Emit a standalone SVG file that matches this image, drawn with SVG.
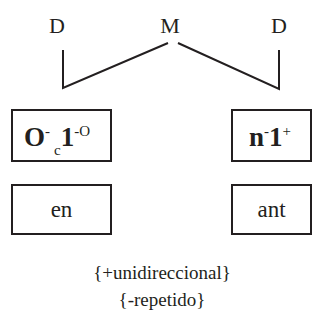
<svg xmlns="http://www.w3.org/2000/svg" width="324" height="333" viewBox="0 0 324 333">
<style>
text{fill:#231f20;font-family:"Liberation Serif","DejaVu Serif",serif}
.lab{font-size:22px}
.box{fill:#fff;stroke:#231f20;stroke-width:2}
.bx{font-size:27px;font-weight:bold}
.plain{font-size:23px}
.sm{font-size:15px}
.foot{font-size:19px}
.con{fill:none;stroke:#231f20;stroke-width:2}
</style>
<g id="top-labels">
<text class="lab" x="57" y="33" text-anchor="middle">D</text>
<text class="lab" x="170" y="33" text-anchor="middle">M</text>
<text class="lab" x="279" y="33" text-anchor="middle">D</text>
</g>
<g id="connectors">
<polyline class="con" points="63,50 63,88 168,43"/>
<polyline class="con" points="178,43 279,89 279,50"/>
</g>
<g id="node-left-top">
<rect class="box" x="12" y="110" width="99" height="51"/>
<text x="24" y="146"><tspan class="bx">O</tspan><tspan class="sm" dy="-10">-</tspan><tspan class="sm" dx="4" dy="19">c</tspan><tspan class="bx" dy="-9">1</tspan><tspan class="sm" dy="-10">-O</tspan></text>
</g>
<g id="node-left-bottom">
<rect class="box" x="12" y="185" width="99" height="49"/>
<text class="plain" x="61.5" y="217" text-anchor="middle">en</text>
</g>
<g id="node-right-top">
<rect class="box" x="232" y="110" width="79" height="51"/>
<text x="249" y="146"><tspan class="bx">n</tspan><tspan class="sm" dy="-10">-</tspan><tspan class="bx" dy="10">1</tspan><tspan class="sm" dy="-10">+</tspan></text>
</g>
<g id="node-right-bottom">
<rect class="box" x="232" y="185" width="79" height="49"/>
<text class="plain" x="271.5" y="217" text-anchor="middle">ant</text>
</g>
<g id="features">
<text class="foot" x="162" y="279" text-anchor="middle">{+unidireccional}</text>
<text class="foot" x="162" y="306" text-anchor="middle">{-repetido}</text>
</g>
</svg>
